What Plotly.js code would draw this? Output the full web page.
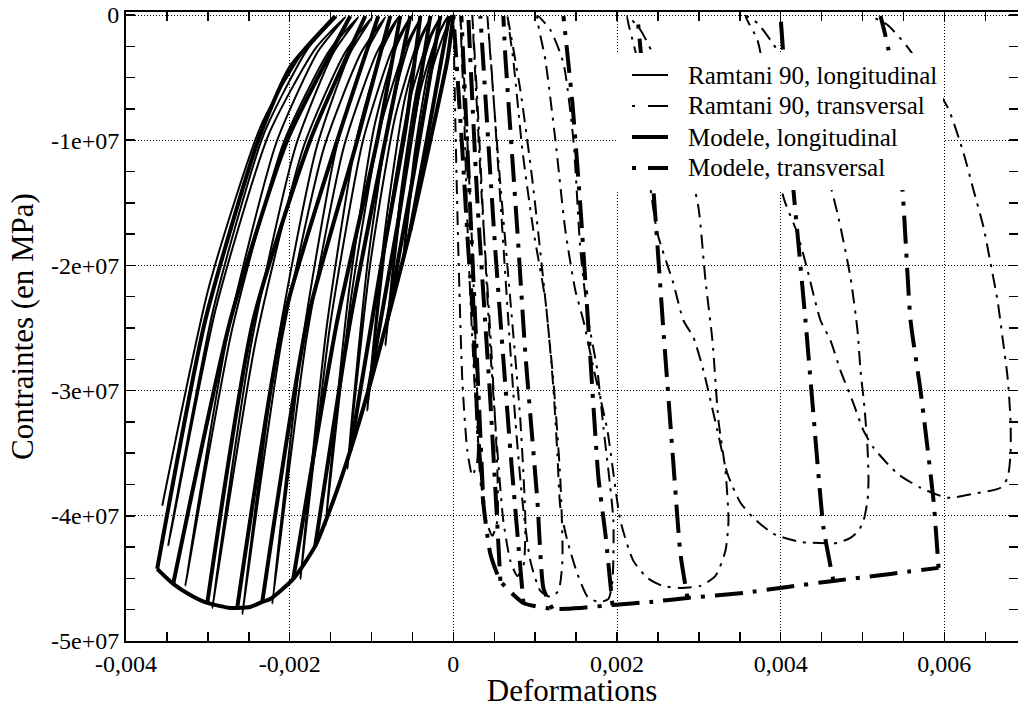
<!DOCTYPE html>
<html>
<head>
<meta charset="utf-8">
<script src="https://cdn.plot.ly/plotly-3.0.1.min.js"></script>
<style>html,body{margin:0;padding:0;background:#fff;}#chart{width:1018px;height:708px;}</style>
</head>
<body>
<div id="chart"></div>
<script>
// ---------- tick labels ----------
const xTickVals = [-0.004, -0.002, 0, 0.002, 0.004, 0.006];
const xTickText = ['-0,004', '-0,002', '0', '0,002', '0,004', '0,006'];
const yTickVals = [0, -1e7, -2e7, -3e7, -4e7, -5e7];
const yTickText = ['0', '-1e+07', '-2e+07', '-3e+07', '-4e+07', '-5e+07'];
const xMinorTicks = [-0.0035, -0.003, -0.0025, -0.0015, -0.001, -0.0005, 0.0005, 0.001, 0.0015, 0.0025, 0.003, 0.0035, 0.0045, 0.005, 0.0055, 0.0065];
const yMinorTicks = [-2.5e6, -5e6, -7.5e6, -1.25e7, -1.5e7, -1.75e7, -2.25e7, -2.5e7, -2.75e7, -3.25e7, -3.5e7, -3.75e7, -4.25e7, -4.5e7, -4.75e7];

// ---------- Ramtani 90, longitudinal (experimental cycles) ----------
const ramtaniLongX = [
  0, -0.000106, -0.000268, -0.000455, -0.000623,
  -0.000474, -0.000309, -0.000166, -0.000073,
  -0.000202, -0.000400, -0.000627, -0.000831,
  -0.000649, -0.000447, -0.000273, -0.000159,
  -0.000311, -0.000543, -0.000811, -0.001051,
  -0.000840, -0.000605, -0.000402, -0.000269,
  -0.000444, -0.000710, -0.001018, -0.001296,
  -0.001051, -0.000780, -0.000545, -0.000391,
  -0.000590, -0.000896, -0.001248, -0.001565,
  -0.001284, -0.000972, -0.000702, -0.000526,
  -0.000754, -0.001104, -0.001507, -0.001870,
  -0.001546, -0.001187, -0.000877, -0.000672,
  -0.000934, -0.001335, -0.001797, -0.002213,
  -0.001840, -0.001425, -0.001066, -0.000831,
  -0.001128, -0.001583, -0.002108, -0.002579,
  -0.002150, -0.001674, -0.001260, -0.000990,
  -0.001323, -0.001831, -0.002418, -0.002946,
  -0.002465, -0.001929, -0.001465, -0.001161,
  -0.001521, -0.002071, -0.002705, -0.003276,
  -0.002748, -0.002161, -0.001653, -0.001320,
  -0.001688, -0.002251, -0.002900, -0.003484,
  -0.002929, -0.002313, -0.001780, -0.001430,
  -0.001792, -0.002345, -0.002983, -0.003557
];
const ramtaniLongY = [
  0, -1.36e6, -4.53e6, -1.107e7, -2.0e7,
  -1.107e7, -4.53e6, -1.36e6, -1.6e5,
  -1.74e6, -5.94e6, -1.459e7, -2.64e7,
  -1.459e7, -5.94e6, -1.74e6, -1.6e5,
  -2.05e6, -7.08e6, -1.745e7, -3.16e7,
  -1.745e7, -7.08e6, -2.05e6, -1.6e5,
  -2.33e6, -8.10e6, -2.0e7, -3.624e7,
  -2.0e7, -8.10e6, -2.33e6, -1.6e5,
  -2.60e6, -9.10e6, -2.251e7, -4.08e7,
  -2.251e7, -9.10e6, -2.60e6, -1.6e5,
  -2.86e6, -1.003e7, -2.484e7, -4.504e7,
  -2.484e7, -1.003e7, -2.86e6, -1.6e5,
  -2.98e6, -1.047e7, -2.594e7, -4.704e7,
  -2.594e7, -1.047e7, -2.98e6, -1.6e5,
  -3.02e6, -1.065e7, -2.638e7, -4.784e7,
  -2.638e7, -1.065e7, -3.02e6, -1.6e5,
  -2.99e6, -1.054e7, -2.612e7, -4.736e7,
  -2.612e7, -1.054e7, -2.99e6, -1.6e5,
  -2.89e6, -1.016e7, -2.515e7, -4.56e7,
  -2.515e7, -1.016e7, -2.89e6, -1.6e5,
  -2.70e6, -9.46e6, -2.339e7, -4.24e7,
  -2.339e7, -9.46e6, -2.70e6, -1.6e5,
  -2.50e6, -8.75e6, -2.163e7, -3.92e7
];

// ---------- Ramtani 90, transversal (experimental cycles) ----------
const ramtaniTransX = [
  0, 0.000024, 0.000061, 0.000110, 0.000171, 0.000232, 0.000293, 0.000293, 0.000232, 0.000159, 0.000086,
  0.000134, 0.000183, 0.000257, 0.000330, 0.000403, 0.000477, 0.000538, 0.000538, 0.000465, 0.000342, 0.000232,
  0.000293, 0.000367, 0.000452, 0.000538, 0.000611, 0.000697, 0.000782, 0.000856, 0.000880, 0.000819, 0.000697, 0.000550, 0.000416,
  0.000477, 0.000575, 0.000672, 0.000758, 0.000844, 0.000941, 0.001064, 0.001186, 0.001284, 0.001333, 0.001308, 0.001222, 0.001100, 0.000966, 0.000819, 0.000660,
  0.000733, 0.000844, 0.000978, 0.001125, 0.001222, 0.001271, 0.001308, 0.001394, 0.001516, 0.001650, 0.001797, 0.001895, 0.001944, 0.001956, 0.001895, 0.001834, 0.001760, 0.001650, 0.001553, 0.001467, 0.001345, 0.001186, 0.001027,
  0.001125, 0.001247, 0.001369, 0.001491, 0.001589, 0.001711, 0.001883, 0.002042, 0.002200, 0.002372, 0.002555, 0.002775, 0.003020, 0.003203, 0.003325, 0.003362, 0.003325, 0.003240, 0.003166, 0.003081, 0.002995, 0.002836, 0.002592, 0.002433, 0.002286, 0.002127,
  0.002249, 0.002335, 0.002408, 0.002494, 0.002689, 0.002812, 0.002934, 0.003056, 0.003227, 0.003350, 0.003509, 0.003667, 0.003912, 0.004242, 0.004694, 0.004853, 0.004951, 0.005012, 0.005061, 0.005073, 0.005061, 0.005024, 0.004976, 0.004939, 0.004853, 0.004694, 0.004487, 0.004242, 0.004034, 0.003875, 0.003716, 0.003570,
  0.003716, 0.003875, 0.004034, 0.004205, 0.004328, 0.004487, 0.004609, 0.004731, 0.004890, 0.005012, 0.005134, 0.005428, 0.005709, 0.006039, 0.006357, 0.006687, 0.006773, 0.006809, 0.006809, 0.006773, 0.006711, 0.006650, 0.006565, 0.006479, 0.006357, 0.006235, 0.006039, 0.005550, 0.005306, 0.005098
];
const ramtaniTransY = [
  0, -8.4e6, -1.88e7, -2.92e7, -3.48e7, -3.68e7, -3.56e7, -3.08e7, -1.88e7, -8.4e6, -8e4,
  -8.4e6, -1.88e7, -2.92e7, -3.64e7, -4.04e7, -4.16e7, -4.04e7, -3.64e7, -2.68e7, -1.4e7, -8e4,
  -6.8e6, -1.64e7, -2.68e7, -3.48e7, -4.04e7, -4.36e7, -4.48e7, -4.4e7, -4.04e7, -3.24e7, -2.28e7, -1.16e7, -8e4,
  -5.2e6, -1.48e7, -2.44e7, -3.24e7, -3.88e7, -4.36e7, -4.6e7, -4.648e7, -4.6e7, -4.36e7, -3.72e7, -2.92e7, -2.12e7, -1.32e7, -6.0e6, -8e4,
  -3.6e6, -1.08e7, -1.72e7, -2.28e7, -2.976e7, -3.504e7, -3.936e7, -4.2e7, -4.464e7, -4.656e7, -4.688e7, -4.664e7, -4.52e7, -4.04e7, -3.64e7, -3.296e7, -2.84e7, -2.44e7, -1.88e7, -1.0e7, -3.84e6, -1.2e6, -8e4,
  -3.6e6, -1.0e7, -1.72e7, -2.2e7, -2.44e7, -2.816e7, -3.32e7, -4.04e7, -4.36e7, -4.496e7, -4.56e7, -4.576e7, -4.56e7, -4.48e7, -4.28e7, -4.04e7, -3.64e7, -3.24e7, -2.6e7, -2.12e7, -1.536e7, -1.08e7, -6.0e6, -3.04e6, -1.2e6, -8e4,
  -3.6e6, -8.4e6, -1.376e7, -1.744e7, -2.144e7, -2.44e7, -2.576e7, -2.84e7, -3.32e7, -3.664e7, -3.896e7, -4.016e7, -4.144e7, -4.208e7, -4.216e7, -4.176e7, -4.12e7, -4.04e7, -3.88e7, -3.72e7, -3.456e7, -3.136e7, -2.84e7, -2.52e7, -2.096e7, -1.584e7, -1.08e7, -6.8e6, -3.6e6, -2.0e6, -6.4e5, -8e4,
  -2.0e6, -7.6e6, -1.456e7, -1.744e7, -2.04e7, -2.44e7, -2.6e7, -2.84e7, -3.104e7, -3.32e7, -3.456e7, -3.664e7, -3.776e7, -3.856e7, -3.824e7, -3.776e7, -3.696e7, -3.504e7, -3.24e7, -2.896e7, -2.576e7, -2.28e7, -1.984e7, -1.696e7, -1.4e7, -1.104e7, -7.36e6, -2.56e6, -8.0e5, -8e4
];

// ---------- Modele, longitudinal (envelope + unloading lines) ----------
const modeleLongX = [
  0, -0.000073, -0.000281, -0.000526, -0.000807, -0.001039, -0.001259, -0.001467, -0.001687, -0.001956,
  -0.002237, -0.002335, -0.002482, -0.002641, -0.002726, -0.003007, -0.003215, -0.003423, -0.003619, null,
  -0.000526, -0.000257, -0.000049, null,
  -0.000807, -0.000477, -0.000159, null,
  -0.001039, -0.000672, -0.000281, null,
  -0.001259, -0.000892, -0.000587, -0.000403, null,
  -0.001687, -0.001259, -0.000831, -0.000526, null,
  -0.001956, -0.001418, -0.000929, -0.000648, null,
  -0.002335, -0.001785, -0.001174, -0.000770, null,
  -0.002641, -0.002078, -0.001418, -0.000917, null,
  -0.003007, -0.002445, -0.001748, -0.001076, null,
  -0.003423, -0.002726, -0.002029, -0.001259, null,
  -0.003619, -0.003032, -0.002384, -0.001993, -0.001443
];
const modeleLongY = [
  0, -3.6e6, -1.0e7, -1.72e7, -2.44e7, -3.0e7, -3.48e7, -3.88e7, -4.24e7, -4.504e7,
  -4.664e7, -4.688e7, -4.728e7, -4.736e7, -4.736e7, -4.696e7, -4.632e7, -4.544e7, -4.424e7, null,
  -1.72e7, -7.6e6, -8e4, null,
  -2.44e7, -1.24e7, -8e4, null,
  -3.0e7, -1.64e7, -8e4, null,
  -3.48e7, -2.04e7, -9.2e6, -8e4, null,
  -4.24e7, -2.44e7, -1.0e7, -8e4, null,
  -4.504e7, -2.44e7, -1.0e7, -8e4, null,
  -4.688e7, -2.44e7, -1.0e7, -8e4, null,
  -4.736e7, -2.44e7, -1.0e7, -8e4, null,
  -4.696e7, -2.44e7, -1.0e7, -8e4, null,
  -4.544e7, -2.44e7, -1.0e7, -8e4, null,
  -4.424e7, -2.44e7, -1.0e7, -4.16e6, -8e4
];

// ---------- Modele, transversal (envelope + unloading lines) ----------
const modeleTransX = [
  0, 0.000110, 0.000183, 0.000244, 0.000293, 0.000367, 0.000452, 0.000575, 0.000856, 0.001210,
  0.001553, 0.001944, 0.002408, 0.002861, 0.003545, 0.004083, 0.004645, 0.005342, 0.005929, null,
  0.005929, 0.005868, 0.005709, 0.005587, 0.005489, 0.005318, 0.005220, null,
  0.004645, 0.004523, 0.004389, 0.004303, 0.004205, 0.004156, 0.003998, null,
  0.002861, 0.002775, 0.002689, 0.002567, 0.002445, 0.002249, null,
  0.001944, 0.001858, 0.001773, 0.001650, 0.001553, 0.001455, 0.001345, null,
  0.001210, 0.001100, 0.001027, 0.000880, 0.000782, 0.000636, 0.000611, null,
  0.000856, 0.000697, 0.000513, 0.000330, null,
  0.000575, 0.000452, 0.000293, 0.000183, null,
  0.000367, 0.000257, 0.000098
];
const modeleTransY = [
  0, -1.08e7, -1.88e7, -2.44e7, -3.24e7, -3.904e7, -4.304e7, -4.52e7, -4.696e7, -4.744e7,
  -4.736e7, -4.712e7, -4.688e7, -4.656e7, -4.616e7, -4.568e7, -4.52e7, -4.464e7, -4.416e7, null,
  -4.416e7, -3.88e7, -3.0e7, -2.44e7, -1.4e7, -2.8e6, -8e4, null,
  -4.52e7, -4.096e7, -3.104e7, -2.44e7, -1.744e7, -1.4e7, -8e4, null,
  -4.656e7, -4.304e7, -3.584e7, -2.52e7, -1.4e7, -8e4, null,
  -4.712e7, -4.144e7, -3.696e7, -2.496e7, -1.536e7, -7.04e6, -8e4, null,
  -4.744e7, -4.576e7, -3.88e7, -2.704e7, -1.72e7, -3.36e6, -8e4, null,
  -4.696e7, -3.48e7, -1.88e7, -8e4, null,
  -4.52e7, -3.08e7, -1.48e7, -8e4, null,
  -3.904e7, -2.28e7, -8e4
];

const seriesNames = ['Ramtani 90, longitudinal', 'Ramtani 90, transversal', 'Modele, longitudinal', 'Modele, transversal'];

const traces = [
  {x: ramtaniLongX, y: ramtaniLongY, name: seriesNames[0], type: 'scatter', mode: 'lines', showlegend: false,
   line: {color: 'black', width: 2, shape: 'spline', smoothing: 0.6}},
  {x: ramtaniTransX, y: ramtaniTransY, name: seriesNames[1], type: 'scatter', mode: 'lines', showlegend: false,
   line: {color: 'black', width: 2, dash: '3px,7px,14px,7px', shape: 'spline', smoothing: 0.6}},
  {x: modeleLongX, y: modeleLongY, name: seriesNames[2], type: 'scatter', mode: 'lines', showlegend: false,
   line: {color: 'black', width: 4, shape: 'spline', smoothing: 0.6}},
  {x: modeleTransX, y: modeleTransY, name: seriesNames[3], type: 'scatter', mode: 'lines', showlegend: false,
   line: {color: 'black', width: 4, dash: '4px,10px,28px,10px', shape: 'spline', smoothing: 0.5}}
];

// ---------- legend drawn as a white box with samples and real text ----------
const fontFam = '"Liberation Serif", "Times New Roman", Times, serif';
const L = 126, T = 12, PW = 892, PH = 629;
const px = v => (v - L) / PW;
const py = v => 1 - (v - T) / PH;
const legRows = [75, 106, 137, 168];
const shapes = [
  {type: 'rect', xref: 'paper', yref: 'paper', layer: 'above',
   x0: px(617), x1: px(943), y0: py(190), y1: py(53), fillcolor: 'white', line: {width: 0}},
  {type: 'line', xref: 'paper', yref: 'paper', layer: 'above', x0: px(632), x1: px(668), y0: py(legRows[0]), y1: py(legRows[0]), line: {color: 'black', width: 2}},
  {type: 'line', xref: 'paper', yref: 'paper', layer: 'above', x0: px(632), x1: px(635), y0: py(legRows[1]), y1: py(legRows[1]), line: {color: 'black', width: 2}},
  {type: 'line', xref: 'paper', yref: 'paper', layer: 'above', x0: px(648), x1: px(668), y0: py(legRows[1]), y1: py(legRows[1]), line: {color: 'black', width: 2}},
  {type: 'line', xref: 'paper', yref: 'paper', layer: 'above', x0: px(632), x1: px(668), y0: py(legRows[2]), y1: py(legRows[2]), line: {color: 'black', width: 4}},
  {type: 'line', xref: 'paper', yref: 'paper', layer: 'above', x0: px(632), x1: px(636), y0: py(legRows[3]), y1: py(legRows[3]), line: {color: 'black', width: 4}},
  {type: 'line', xref: 'paper', yref: 'paper', layer: 'above', x0: px(648), x1: px(668), y0: py(legRows[3]), y1: py(legRows[3]), line: {color: 'black', width: 4}}
];
const annotations = seriesNames.map((name, i) => ({
  text: name, xref: 'paper', yref: 'paper', x: px(686), y: py(legRows[i]),
  xanchor: 'left', yanchor: 'middle', showarrow: false,
  font: {size: 25, family: fontFam, color: 'black'}
}));

const axisCommon = {
  tickmode: 'array', ticks: 'inside', ticklen: 9, tickwidth: 1.5, tickcolor: 'black',
  showline: true, linecolor: 'black', linewidth: 2,
  mirror: 'allticks', showgrid: true, gridcolor: 'black', griddash: '1px,2px', gridwidth: 1,
  zeroline: false, automargin: false, tickfont: {size: 24, family: fontFam, color: 'black'}
};

const layout = {
  width: 1018, height: 708,
  margin: {l: 126, r: 0, t: 12, b: 67, pad: 0},
  paper_bgcolor: 'white', plot_bgcolor: 'white',
  font: {family: fontFam, color: 'black', size: 24},
  showlegend: false,
  shapes: shapes,
  annotations: annotations,
  xaxis: Object.assign({}, axisCommon, {
    range: [-0.004, 0.0069], tickvals: xTickVals, ticktext: xTickText,
    minor: {tickmode: 'array', tickvals: xMinorTicks, ticks: 'inside', ticklen: 9, tickwidth: 1.5, tickcolor: 'black', showgrid: false},
    title: {text: 'Deformations', font: {size: 31, family: fontFam}, standoff: 8}
  }),
  yaxis: Object.assign({}, axisCommon, {
    range: [-5e7, 2.4e5], tickvals: yTickVals, ticktext: yTickText,
    minor: {tickmode: 'array', tickvals: yMinorTicks, ticks: 'inside', ticklen: 9, tickwidth: 1.5, tickcolor: 'black', showgrid: false},
    title: {text: 'Contraintes (en MPa)', font: {size: 31, family: fontFam}, standoff: 8}
  })
};

Plotly.newPlot('chart', traces, layout, {displayModeBar: false, staticPlot: true});
</script>
</body>
</html>
